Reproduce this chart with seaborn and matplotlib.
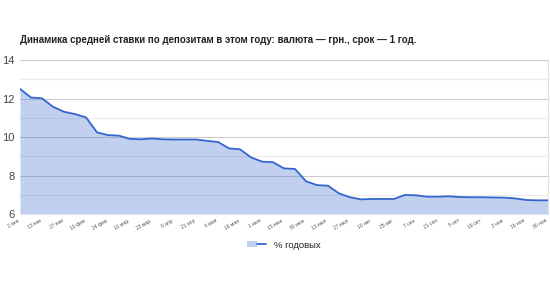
import matplotlib
matplotlib.use("Agg")
import matplotlib.pyplot as plt
import seaborn as sns
import pandas as pd
import numpy as np
from matplotlib.patches import Patch
from matplotlib.lines import Line2D
from matplotlib.ticker import MultipleLocator
from matplotlib.legend_handler import HandlerTuple

title = "Динамика средней ставки по депозитам в этом году: валюта — грн., срок — 1 год."
series_name = "% годовых"
tick_labels = ["2 янв", "13 янв", "27 янв", "10 фев", "24 фев", "10 мар", "23 мар", "6 апр",
               "21 апр", "4 мая", "18 мая", "1 июн", "15 июн", "30 июн", "13 июл", "27 июл",
               "10 авг", "25 авг", "7 сен", "21 сен", "5 окт", "19 окт", "2 ноя", "16 ноя", "30 ноя"]
rates = [12.5, 12.05, 12.01, 11.57, 11.31, 11.19, 11.02, 10.24, 10.1, 10.07,
         9.9, 9.88, 9.92, 9.88, 9.87, 9.87, 9.87, 9.8, 9.74, 9.41,
         9.36, 8.94, 8.72, 8.69, 8.37, 8.34, 7.7, 7.5, 7.47, 7.07,
         6.87, 6.76, 6.78, 6.78, 6.78, 6.99, 6.97, 6.9, 6.9, 6.92,
         6.88, 6.87, 6.87, 6.86, 6.85, 6.81, 6.73, 6.71, 6.71]

df = pd.DataFrame({"idx": np.arange(len(rates)), "rate": rates})

sns.set_theme(style="white")
plt.rcParams["font.family"] = ["Liberation Sans", "DejaVu Sans"]

fig = plt.figure(figsize=(5.5, 3.04), dpi=100)
ax = fig.add_axes([20/550, 1-214/304, 528/550, 154/304])

line_color = "#3366CC"
fill_color = "#3366CC"
ax.fill_between(df["idx"], 6, df["rate"], color=fill_color, alpha=0.3, linewidth=0, zorder=2)
sns.lineplot(data=df, x="idx", y="rate", ax=ax, color=line_color, linewidth=1.3, zorder=3)

ax.set_xlim(0, len(rates)-1)
ax.set_ylim(6, 14)
ax.yaxis.set_major_locator(MultipleLocator(2))
ax.yaxis.set_minor_locator(MultipleLocator(1))
ax.grid(True, which="major", axis="y", color="#cccccc", linewidth=0.8, zorder=0)
ax.grid(True, which="minor", axis="y", color="#ebebeb", linewidth=0.8, zorder=0)
ax.set_axisbelow(True)
for s in ["top", "left", "bottom"]:
    ax.spines[s].set_visible(False)
ax.spines["right"].set_color("#e0e0e0")
ax.spines["right"].set_linewidth(0.8)

ax.set_xticks(np.arange(0, len(rates), 2))
ax.set_xticklabels(tick_labels, rotation=30, ha="right", fontsize=3.6, color="#555555")
ax.tick_params(axis="x", length=0, pad=3)
ax.tick_params(axis="y", which="both", length=0, pad=4, labelsize=8, labelcolor="#444444")
ax.set_xlabel("")
ax.set_ylabel("")

fig.text(20/550, 1-40/304, title, fontsize=7.0, fontweight="bold", color="#222222", va="center", ha="left")

handle = (Patch(facecolor=fill_color, alpha=0.3, edgecolor="none"),
          Line2D([0], [0], color=line_color, linewidth=1.3))
leg = fig.legend([handle], [series_name], loc="center", bbox_to_anchor=(284/550, 1-245/304),
                 frameon=False, fontsize=6.8, handlelength=2.0, handleheight=0.6,
                 handler_map={tuple: HandlerTuple(ndivide=None, pad=0)})
for t in leg.get_texts():
    t.set_color("#222222")

fig.savefig("out.png", dpi=100)
